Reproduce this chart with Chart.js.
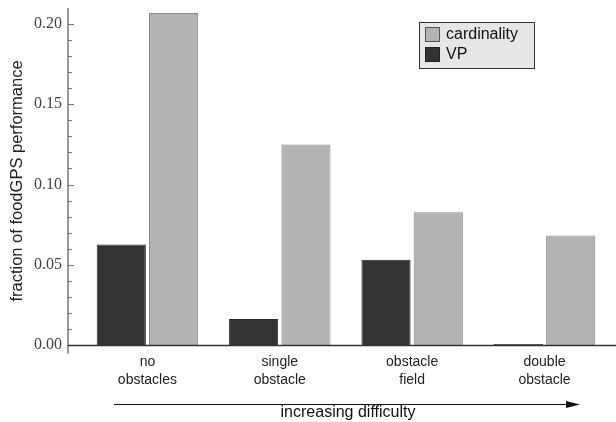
<!DOCTYPE html>
<html>
<head>
<meta charset="utf-8">
<script src="https://cdn.jsdelivr.net/npm/chart.js@4"></script>
<style>
  html, body { margin: 0; padding: 0; background: #fff; }
</style>
</head>
<body>
<canvas id="myChart" width="616" height="422"></canvas>
<script>
// Values
const categories = ['no obstacles', 'single obstacle', 'obstacle field', 'double obstacle']
const vpValues = [0.0627, 0.0162, 0.0531, 0.0006]
const cardinalityValues = [0.2069, 0.1250, 0.0827, 0.0683]
const yTicks = [0, 0.05, 0.10, 0.15, 0.20]
const yTitle = 'fraction of foodGPS performance'
const xTitle = 'increasing difficulty'

const sans = '"Liberation Sans", Arial, sans-serif'
const serif = '"Liberation Serif", "Times New Roman", serif'

//Axes, minor ticks, arrow and titles
const axesPlugin = {
  id: 'axes',
  afterDatasetsDraw(chart) {
    const {ctx, chartArea, scales: {x, y}} = chart
    const ax = chartArea.left
    const zeroY = Math.round(y.getPixelForValue(0)) + 0.5
    ctx.save()

    // y axis line + ticks pointing inward
    ctx.strokeStyle = '#777'
    ctx.lineWidth = 1.5
    ctx.beginPath()
    ctx.moveTo(ax, chartArea.top)
    ctx.lineTo(ax, zeroY + 8)
    ctx.stroke()
    ctx.lineWidth = 1
    for (let i = 0; i <= 20; i++) {
      const py = Math.round(y.getPixelForValue(i / 100)) + 0.5
      const len = i % 5 === 0 ? 6 : 4
      ctx.beginPath()
      ctx.moveTo(ax, py)
      ctx.lineTo(ax + len, py)
      ctx.stroke()
    }

    // x axis line
    ctx.strokeStyle = '#333'
    ctx.lineWidth = 1.5
    ctx.beginPath()
    ctx.moveTo(ax, zeroY)
    ctx.lineTo(chartArea.right, zeroY)
    ctx.stroke()

    // y title
    ctx.fillStyle = '#222'
    ctx.font = '16.5px ' + sans
    ctx.textAlign = 'center'
    ctx.textBaseline = 'middle'
    ctx.save()
    ctx.translate(17, 181)
    ctx.rotate(-Math.PI / 2)
    ctx.fillText(yTitle, 0, 0)
    ctx.restore()

    // difficulty arrow
    ctx.strokeStyle = '#111'
    ctx.fillStyle = '#111'
    ctx.lineWidth = 1.2
    ctx.beginPath()
    ctx.moveTo(114, 404.5)
    ctx.lineTo(570, 404.5)
    ctx.stroke()
    ctx.beginPath()
    ctx.moveTo(580, 404.5)
    ctx.lineTo(566, 401)
    ctx.lineTo(566, 408)
    ctx.closePath()
    ctx.fill()
    ctx.font = '16px ' + sans
    ctx.fillText(xTitle, 348, 413)

    ctx.restore()
  }
}

//Legend box inside the plot
const legendPlugin = {
  id: 'boxLegend',
  afterDraw(chart) {
    const {ctx} = chart
    const items = chart.data.datasets.slice().reverse()
    ctx.save()
    ctx.fillStyle = '#e6e6e6'
    ctx.strokeStyle = '#333'
    ctx.lineWidth = 1
    ctx.fillRect(419.5, 22.5, 115, 46)
    ctx.strokeRect(419.5, 22.5, 115, 46)
    ctx.font = '16px ' + sans
    ctx.textAlign = 'left'
    ctx.textBaseline = 'middle'
    items.forEach((ds, i) => {
      const top = 27.5 + i * 20
      ctx.fillStyle = ds.backgroundColor
      ctx.fillRect(425.5, top, 14, 14)
      ctx.strokeStyle = ds.legendBorder
      ctx.strokeRect(425.5, top, 14, 14)
      ctx.fillStyle = '#111'
      ctx.fillText(ds.label, 446, top + 7.5)
    })
    ctx.restore()
  }
}

const ctx = document.getElementById('myChart')
const myChart = new Chart(ctx, {
  type: 'bar',
  data: {
    labels: categories.map((c, i) => i),
    datasets: [
      {
        label: 'VP',
        data: vpValues,
        backgroundColor: '#333333',
        borderColor: '#2a2a2a',
        legendBorder: '#222',
        borderWidth: 1,
      },
      {
        label: 'cardinality',
        data: cardinalityValues,
        backgroundColor: '#b3b3b3',
        borderColor: '#8a8a8a',
        legendBorder: '#555',
        borderWidth: 1,
      },
    ],
  },
  options: {
    responsive: false,
    devicePixelRatio: 1,
    animation: false,
    categoryPercentage: 0.79,
    barPercentage: 0.94,
    layout: { padding: { top: 8, left: 0, right: 0, bottom: 0 } },
    plugins: {
      legend: { display: false },
      tooltip: { enabled: false },
    },
    scales: {
      x: {
        type: 'linear',
        min: -0.6,
        max: 3.54,
        offset: false,
        grid: { display: false, drawTicks: false },
        border: { display: false },
        afterBuildTicks: s => { s.ticks = categories.map((c, i) => ({ value: i })) },
        afterFit: s => { s.height = 77 },
        ticks: {
          autoSkip: false,
          maxRotation: 0,
          padding: 8,
          color: '#222',
          font: { family: sans, size: 14, lineHeight: 1.3 },
          callback: v => categories[v] ? categories[v].split(' ') : '',
        },
      },
      y: {
        min: 0,
        max: 0.21,
        grid: { display: false, drawTicks: false },
        border: { display: false },
        afterBuildTicks: s => { s.ticks = yTicks.map(v => ({ value: v })) },
        afterFit: s => { s.width = 68 },
        ticks: {
          padding: 6,
          color: '#444',
          font: { family: serif, size: 16, lineHeight: 0.2 },
          callback: v => v.toFixed(2),
        },
      },
    },
  },
  plugins: [axesPlugin, legendPlugin],
})
</script>
</body>
</html>
